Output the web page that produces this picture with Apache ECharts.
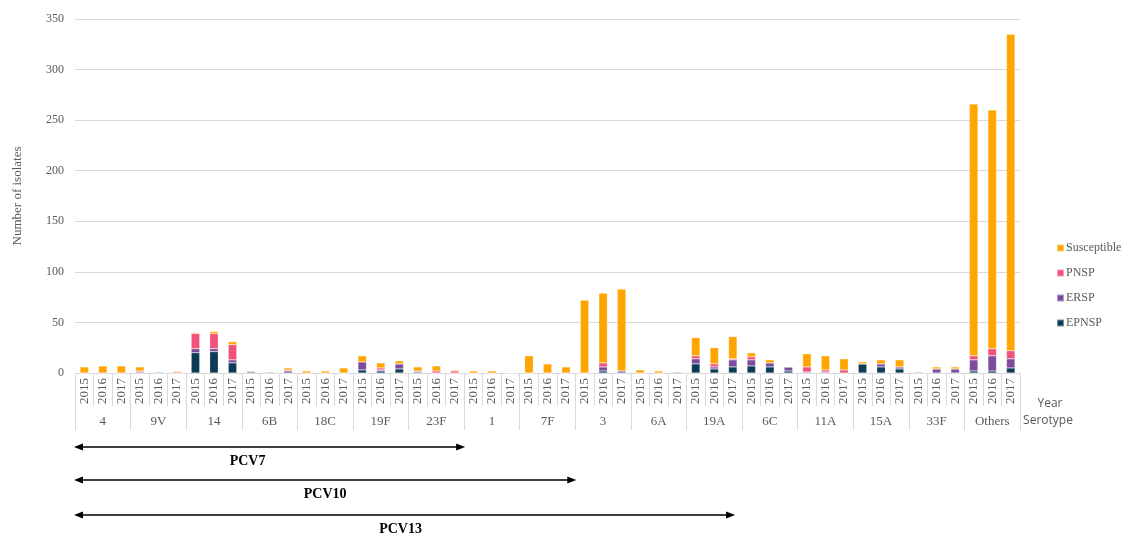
<!DOCTYPE html>
<html>
<head>
<meta charset="utf-8">
<script src="https://cdn.jsdelivr.net/npm/echarts@6/dist/echarts.min.js"></script>
<style>html,body{margin:0;padding:0;background:#fff;}#c{width:1125px;height:535px;}</style>
</head>
<body>
<div id="c"></div>
<script>
const serotypes = ['4','9V','14','6B','18C','19F','23F','1','7F','3','6A','19A','6C','11A','15A','33F','Others'];
const years = ['2015','2016','2017'];
// values per serotype, [2015, 2016, 2017]
const EPNSP = [0,0,0, 0,0,0, 20,21,10, 1,0,0, 0,0,0, 3,2,4, 1,0,0, 0,0,0, 0,0,0, 0,2,0, 0,0,1, 9,4,6, 7,6,2, 0,0,0, 9,6,4, 0,0,0, 2,2,5];
const ERSP  = [0,0,0, 1,1,0, 4,3,3, 1,1,2, 0,0,0, 8,1,5, 1,0,0, 0,0,0, 0,0,0, 0,4,2, 0,0,0, 5,2,7, 6,4,4, 1,1,0, 0,3,2, 1,4,4, 11,15,9];
const PNSP  = [0,0,0, 1,0,1, 15,15,15, 0,0,1, 0,0,0, 0,2,0, 0,2,2, 0,0,0, 0,0,0, 0,4,0, 0,0,0, 3,3,1, 3,0,0, 5,2,3, 0,0,0, 0,0,0, 4,7,8];
const Susceptible = [6,7,7, 4,0,1, 1,2,3, 0,0,2, 2,2,5, 6,5,3, 4,5,1, 2,2,0, 17,9,6, 72,69,81, 3,2,0, 18,16,22, 4,3,0, 13,14,11, 2,4,7, 0,2,2, 249,236,313];
const yTicks = {min:0, max:350, interval:50};
const vaccines = [{name:'PCV7', groups:7, labelShift:-22}, {name:'PCV10', groups:9, labelShift:0}, {name:'PCV13', groups:12, labelShift:-4}];

const yearCats = [];
serotypes.forEach(() => years.forEach(y => yearCats.push(y)));

const serif = 'Liberation Serif';
const grey = '#595959';
const colors = {Susceptible:'#FFA500', PNSP:'#F0527A', ERSP:'#7B4C9C', EPNSP:'#0C3B57'};

function bar(name, data){
  return {name, type:'bar', stack:'t', data, xAxisIndex:0, barWidth:'46%',
    itemStyle:{color:colors[name], borderColor:'rgba(255,255,255,0.45)', borderWidth:0.5},
    emphasis:{disabled:true}};
}

const chart = echarts.init(document.getElementById('c'), null, {renderer:'canvas'});
chart.setOption({
  animation:false,
  textStyle:{fontFamily:serif},
  grid:{left:75, right:105, top:19, bottom:162, containLabel:false},
  legend:{orient:'vertical', left:1051, top:237, itemWidth:7, itemHeight:7, itemGap:13,
    icon:'rect', data:['Susceptible','PNSP','ERSP','EPNSP'],
    textStyle:{fontFamily:serif, fontSize:12, color:grey, padding:[0,0,0,-3]}},
  xAxis:[
    {type:'category', data:yearCats, position:'bottom',
     axisLine:{show:true, lineStyle:{color:'#d9d9d9'}},
     axisTick:{show:true, interval:0, length:33, lineStyle:{color:'#d9d9d9'}},
     axisLabel:{interval:0, rotate:90, margin:5, fontSize:13, color:grey, fontFamily:serif}},
    {type:'category', data:serotypes, position:'bottom',
     axisLine:{show:false},
     axisTick:{show:true, interval:0, length:57, lineStyle:{color:'#d9d9d9'}},
     axisLabel:{interval:0, margin:42, fontSize:13, color:grey, fontFamily:serif}}
  ],
  yAxis:{type:'value', min:yTicks.min, max:yTicks.max, interval:yTicks.interval,
    name:'Number of isolates', nameLocation:'middle', nameGap:51,
    nameTextStyle:{fontFamily:serif, fontSize:13, color:grey},
    axisLine:{show:false}, axisTick:{show:false},
    axisLabel:{fontSize:12, color:grey, margin:11, fontFamily:serif},
    splitLine:{lineStyle:{color:'#d9d9d9'}}},
  series:[bar('EPNSP', EPNSP), bar('ERSP', ERSP), bar('PNSP', PNSP), bar('Susceptible', Susceptible)]
});

// annotations positioned from the axis scale
const g0 = chart.convertToPixel({xAxisIndex:1}, serotypes[0]);
const g1 = chart.convertToPixel({xAxisIndex:1}, serotypes[1]);
const gw = g1 - g0;
const x0 = g0 - gw/2;
const rightEdge = chart.convertToPixel({xAxisIndex:1}, serotypes[serotypes.length-1]) + gw/2;
const arrowY = [447, 480, 515];
const labelY = [461, 494, 529];
const els = [];
vaccines.forEach((v, i) => {
  const xe = x0 + v.groups*gw - (i===2 ? 8 : 0);
  const y = arrowY[i];
  els.push({type:'line', shape:{x1:x0+6, y1:y, x2:xe-6, y2:y}, style:{stroke:'#000', lineWidth:1.5}});
  els.push({type:'polygon', shape:{points:[[x0-1,y],[x0+8,y-3.5],[x0+8,y+3.5]]}, style:{fill:'#000'}});
  els.push({type:'polygon', shape:{points:[[xe+1,y],[xe-8,y-3.5],[xe-8,y+3.5]]}, style:{fill:'#000'}});
  els.push({type:'text', x:(x0+xe)/2 + v.labelShift, y:labelY[i], style:{text:v.name, font:'bold 14px "Liberation Serif"', fill:'#000', align:'center', verticalAlign:'middle'}});
});
els.push({type:'text', x:rightEdge+30, y:404, style:{text:'Year', font:'12px "Open Sans"', fill:grey, align:'center', verticalAlign:'middle'}});
els.push({type:'text', x:rightEdge+28, y:421, style:{text:'Serotype', font:'12px "Open Sans"', fill:grey, align:'center', verticalAlign:'middle'}});
chart.setOption({graphic:{elements:els}});
</script>
</body>
</html>
